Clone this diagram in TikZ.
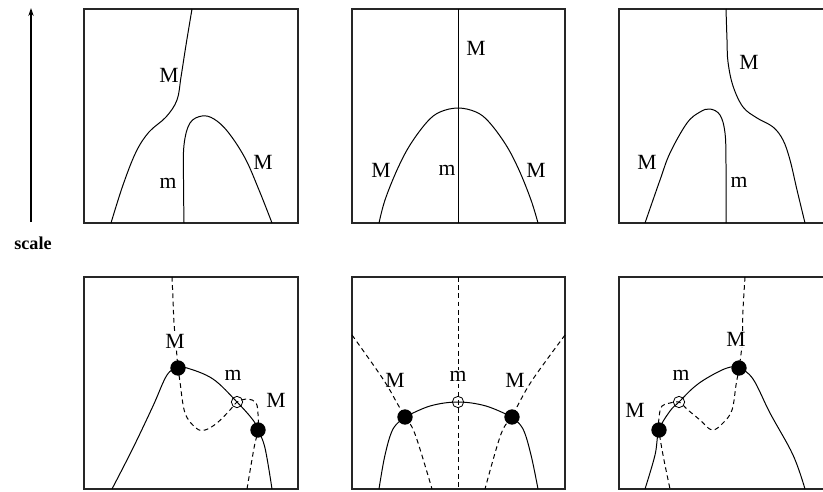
\documentclass[tikz,border=0pt]{standalone}
\usepackage{fontspec}
\setmainfont{Liberation Serif}
\usetikzlibrary{arrows.meta}
\tikzset{
  panelBox/.style={draw=black!85, line width=1.1pt},
  curveS/.style={black, line width=0.85pt},
  curveD/.style={black, line width=0.85pt, dash pattern=on 4pt off 3pt},
  dotF/.style={circle, fill=black, inner sep=0pt, minimum size=0.46cm},
  dotO/.style={circle, draw=black, line width=0.7pt, inner sep=0pt, minimum size=0.34cm},
  lbl/.style={font=\fontsize{18.5}{20}\selectfont, inner sep=1pt},
  lblW/.style={lbl, fill=white, inner sep=0.5pt},
}

\begin{document}
\begin{tikzpicture}[x=0.03cm, y=-0.03cm]
  \useasboundingbox (0,0) rectangle (823,491);
  \clip (0,0) rectangle (823,491);

  % scale axis
  \node[font=\bfseries\fontsize{15.5}{17}\selectfont, inner sep=1pt] (scale) at (33,243) {scale};
  \coordinate (axisBot) at (31,222);
  \coordinate (axisTop) at (31,8);
  \draw[curveS, line width=0.9pt, -{Stealth[length=2.4mm, width=1.6mm]}] (axisBot) -- (axisTop);

  % frames
  \draw[panelBox] (84,9) rectangle (298,223);
  \draw[panelBox] (352,9) rectangle (565,223);
  \draw[panelBox] (619,9) rectangle (833,223);
  \draw[panelBox] (84,277) rectangle (298,489);
  \draw[panelBox] (352,277) rectangle (565,489);
  \draw[panelBox] (619,277) rectangle (833,489);

  % top left
  \draw[curveS] plot[smooth, tension=0.6] coordinates {(192,9) (186,45) (181,77) (177,100)
    (166,117) (149,132) (136,152) (123,185) (111,223)};
  \draw[curveS] plot[smooth, tension=0.6] coordinates {(184,223) (183.5,180) (184,145)
    (190,123) (202,116) (214,119) (228,132) (245,158) (259,190) (272,223)};
  \node[lbl] (t1M1) at (169,75) {M};
  \node[lbl] (t1m) at (168,183) {m};
  \node[lbl] (t1M2) at (263,162) {M};

  % top middle
  \draw[curveS] (458,9) -- (458,223);
  \draw[curveS] plot[smooth, tension=0.6] coordinates {(379,223) (385,200) (397,170) (410,145)
    (427,122) (440,112) (458,108) (476,112) (489,122) (506,145) (519,170) (531,200) (538,223)};
  \node[lbl] (t2M1) at (476,48) {M};
  \node[lbl] (t2M2) at (381,170) {M};
  \node[lbl] (t2m) at (447,170) {m};
  \node[lbl] (t2M3) at (536,170) {M};

  % top right
  \draw[curveS] plot[smooth, tension=0.6] coordinates {(726,9) (727,40) (728,62) (733,86)
    (743,107) (757,118) (773,127) (783,140) (790,160) (797,190) (805,223)};
  \draw[curveS] plot[smooth, tension=0.6] coordinates {(645,223) (660,180) (670,153) (687,123)
    (700,112) (710,109) (720,115) (725,133) (726,165) (726,223)};
  \node[lbl] (t3M1) at (749,62) {M};
  \node[lbl] (t3M2) at (647,162) {M};
  \node[lbl] (t3m) at (739,182) {m};

  % bottom left
  \coordinate (b1P) at (178,368);
  \coordinate (b1Q) at (237,402);
  \coordinate (b1R) at (258,430);
  \draw[curveS] plot[smooth, tension=0.6] coordinates {(112,489) (133,448) (153,406) (167,375)
    (b1P) (187,368) (213,379) (b1Q) (253,420) (b1R) (265,448) (272,489)};
  \draw[curveD] plot[smooth, tension=0.6] coordinates {(172,277) (173,299) (174,323) (176,345)
    (b1P) (180,382) (185,413) (196,428) (205,430) (217,423) (230,410) (b1Q) (248,399)
    (256,403) (258,414) (b1R) (254,448) (247,489)};
  \node[dotF] (b1Pdot) at (b1P) {};
  \node[dotO] (b1Qdot) at (b1Q) {};
  \node[dotF] (b1Rdot) at (b1R) {};
  \node[lblW] (b1M1) at (175,341) {M};
  \node[lbl] (b1m) at (233,375) {m};
  \node[lbl] (b1M2) at (276,400) {M};

  % bottom middle
  \coordinate (b2P) at (405,417);
  \coordinate (b2Q) at (458,402);
  \coordinate (b2R) at (512,417);
  \draw[curveS] plot[smooth, tension=0.6] coordinates {(b2P) (430,406) (b2Q) (486,406) (b2R)};
  \draw[curveS] plot[smooth, tension=0.6] coordinates {(b2P) (393,429) (385,455) (379,489)};
  \draw[curveS] plot[smooth, tension=0.6] coordinates {(b2R) (523,429) (531,455) (538,489)};
  \draw[curveD] (458,277) -- (458,489);
  \draw[curveD] plot[smooth, tension=0.6] coordinates {(352,335) (383,379) (397,403) (b2P)
    (415,434) (432,489)};
  \draw[curveD] plot[smooth, tension=0.6] coordinates {(565,335) (533,379) (519,403) (b2R)
    (501,434) (485,489)};
  \node[dotF] (b2Pdot) at (b2P) {};
  \node[dotO] (b2Qdot) at (b2Q) {};
  \node[dotF] (b2Rdot) at (b2R) {};
  \node[lbl] (b2M1) at (395,380) {M};
  \node[lblW] (b2m) at (458,376) {m};
  \node[lbl] (b2M2) at (515,380) {M};

  % bottom right
  \coordinate (b3P) at (739,368);
  \coordinate (b3Q) at (679,402);
  \coordinate (b3R) at (659,430);
  \draw[curveS] plot[smooth, tension=0.6] coordinates {(805,489) (793,455) (770,413) (753,379)
    (b3P) (727,368) (707,378) (693,388) (b3Q) (670,411) (b3R) (655,455) (645,489)};
  \draw[curveD] plot[smooth, tension=0.6] coordinates {(745,277) (743,310) (742,344) (b3P)
    (736,385) (732,410) (723,423) (712,430) (700,420) (688,410) (b3Q) (670,403) (662,406)
    (659,417) (b3R) (663,455) (670,489)};
  \node[dotF] (b3Pdot) at (b3P) {};
  \node[dotO] (b3Qdot) at (b3Q) {};
  \node[dotF] (b3Rdot) at (b3R) {};
  \node[lblW] (b3M1) at (736,339) {M};
  \node[lbl] (b3m) at (681,375) {m};
  \node[lbl] (b3M2) at (635,410) {M};
\end{tikzpicture}
\end{document}
